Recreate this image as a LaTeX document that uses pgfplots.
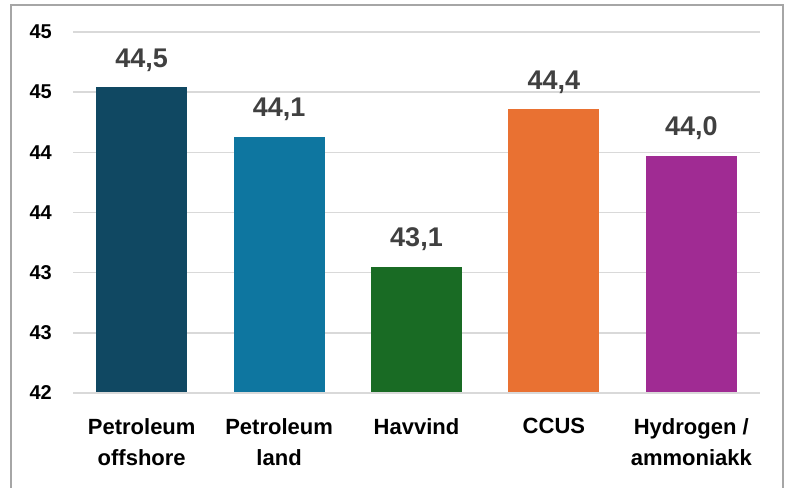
\documentclass[border=0pt]{standalone}
\usepackage{pgfplots}
\pgfplotsset{compat=1.18}
\usepackage{fontspec}
\setmainfont{Liberation Sans}
\definecolor{cOff}{HTML}{104862}
\definecolor{cLand}{HTML}{0E76A0}
\definecolor{cWind}{HTML}{196B24}
\definecolor{cCcus}{HTML}{E97132}
\definecolor{cHyd}{HTML}{A02B93}
\definecolor{gridc}{HTML}{D9D9D9}
\definecolor{framec}{HTML}{A6A6A6}
\definecolor{labc}{HTML}{404040}
\begin{document}
\begin{tikzpicture}
\useasboundingbox (0pt,0pt) rectangle (786pt,487pt);
\draw[framec, line width=1.5pt] (11pt,-5pt) -- (11pt,482pt) -- (783pt,482pt) -- (783pt,-5pt);
\begin{axis}[
  at={(73pt,94pt)}, anchor=south west,
  scale only axis, width=687pt, height=361pt,
  xmin=-0.5, xmax=4.5, ymin=42, ymax=45,
  axis line style={draw=none},
  ytick={42,42.5,43,43.5,44,44.5,45},
  yticklabels={42,43,43,44,44,45,45},
  ymajorgrids, grid style={gridc, line width=1.5pt},
  major tick length=0pt,
  yticklabel style={font=\bfseries\fontsize{20}{22}\selectfont, inner sep=0pt, xshift=-21pt},
  xtick={0,1,2,3,4},
  xticklabels={{Petroleum\\offshore},{Petroleum\\land},{Havvind},{CCUS},{Hydrogen /\\ammoniakk}},
  xticklabel style={font=\bfseries\fontsize{22}{31}\selectfont, align=center, anchor=north, inner sep=0pt, yshift=-25pt},
  ybar, bar width=91pt, bar shift=0pt,
  point meta=explicit symbolic,
  nodes near coords,
  nodes near coords style={anchor=base, inner sep=0pt, yshift=20pt, text=labc, font=\bfseries\fontsize{27}{30}\selectfont},
  clip=false,
]
\addplot[fill=cOff, draw=none] table[meta=l] {
x y l
0 44.54 {44,5}
};
\addplot[fill=cLand, draw=none] table[meta=l] {
x y l
1 44.13 {44,1}
};
\addplot[fill=cWind, draw=none] table[meta=l] {
x y l
2 43.05 {43,1}
};
\addplot[fill=cCcus, draw=none] table[meta=l] {
x y l
3 44.36 {44,4}
};
\addplot[fill=cHyd, draw=none] table[meta=l] {
x y l
4 43.97 {44,0}
};
\draw[gridc, line width=1.5pt] (axis cs:-0.5,42) -- (axis cs:4.5,42);
\end{axis}
\end{tikzpicture}
\end{document}
